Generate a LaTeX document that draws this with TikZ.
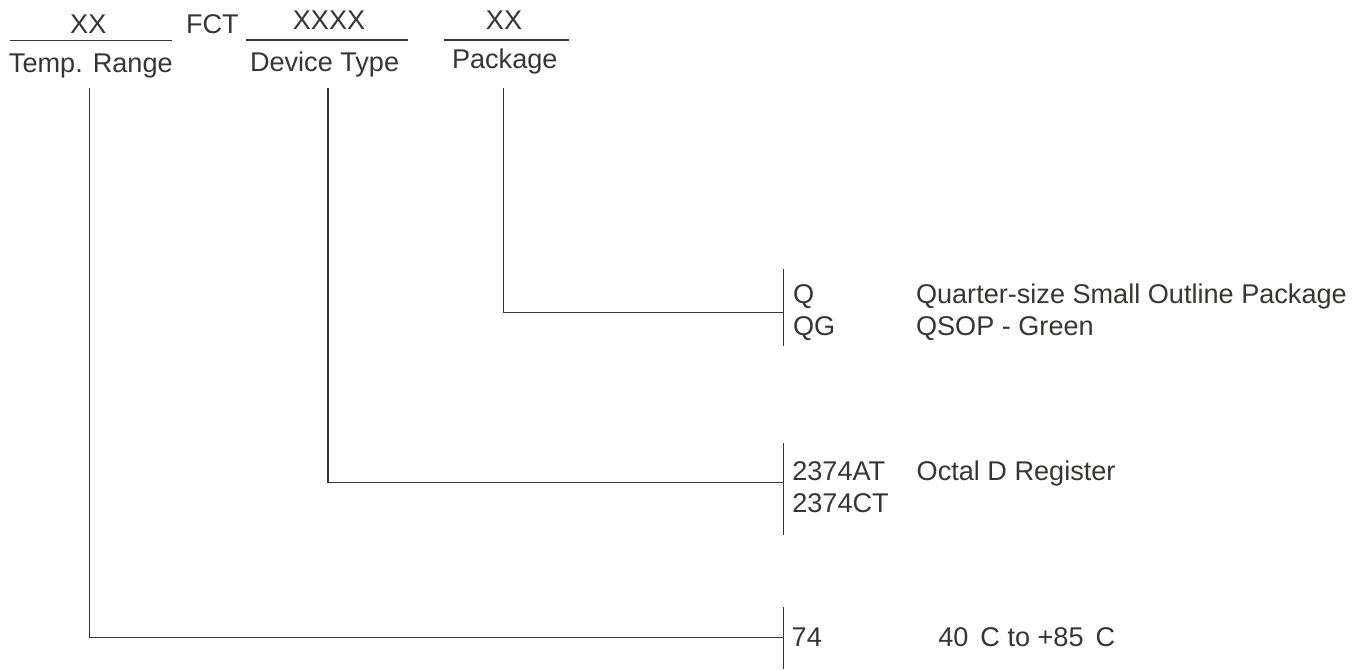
\documentclass[tikz,border=0pt]{standalone}
\usepackage{fontspec}
\setmainfont{Liberation Sans}
\definecolor{ink}{HTML}{363634}
\begin{document}
\begin{tikzpicture}[x=1pt,y=-1pt,
  lbl/.style={inner sep=0pt, outer sep=0pt, text=ink, font=\fontsize{27.1}{32}\selectfont},
  lw/.style={lbl, anchor=base west},
  lc/.style={lbl, anchor=base},
  ln/.style={draw=ink, line width=1.3pt}]
\useasboundingbox (0,0) rectangle (1359,669);
% header
\node[lc] (xx1) at (88.3,33.3) {XX};
\node[lw] (fct) at (186,33.3) {FCT};
\node[lc] (xxxx) at (329,29.5) {XXXX};
\node[lc] (xx2) at (504,29.5) {XX};
\node[lw] (temp) at (9,72.7) {Temp. Range};
\node[lw] (dev) at (250,71) {Device Type};
\node[lw] (pkg) at (452,69) {Package};
\coordinate (u1a) at (10,40.7);  \coordinate (u1b) at (172.3,40.7);
\coordinate (u2a) at (246,40);   \coordinate (u2b) at (408,40);
\coordinate (u3a) at (444,40);   \coordinate (u3b) at (569,40);
\draw[ln] (u1a) -- (u1b);
\draw[ln] (u2a) -- (u2b);
\draw[ln] (u3a) -- (u3b);
% package branch
\coordinate (pkgtop) at (503.5,88.3);
\coordinate (pkgend) at (783.5,312.3);
\coordinate (b1t) at (783.5,269.3); \coordinate (b1b) at (783.5,346);
\draw[ln] (pkgtop) |- (pkgend);
\draw[ln] (b1t) -- (b1b);
\node[lw] (q) at (793,303) {Q};
\node[lw] (qg) at (793,335) {QG};
\node[lw] (qd) at (916,303) {Quarter-size Small Outline Package};
\node[lw] (qgd) at (916,335) {QSOP - Green};
% device branch
\coordinate (devtop) at (328,88.3);
\coordinate (devend) at (783.5,482.3);
\coordinate (b2t) at (783.5,442.7); \coordinate (b2b) at (783.5,535);
\draw[ln] (devtop) |- (devend);
\draw[ln] (b2t) -- (b2b);
\node[lw] (at) at (792.3,480.7) {2374AT};
\node[lw] (ct) at (792.3,512.5) {2374CT};
\node[lw] (atd) at (916.7,480.7) {Octal D Register};
% temp branch
\coordinate (temptop) at (89.3,88.3);
\coordinate (tempend) at (783.5,637.3);
\coordinate (b3t) at (783.5,607); \coordinate (b3b) at (783.5,669);
\draw[ln] (temptop) |- (tempend);
\draw[ln] (b3t) -- (b3b);
\node[lw] (s74) at (791.7,646.7) {74};
\node[lw] (s74d) at (938.3,646.7) {40\hspace{12pt}C to +85\hspace{12pt}C};
\end{tikzpicture}
\end{document}
